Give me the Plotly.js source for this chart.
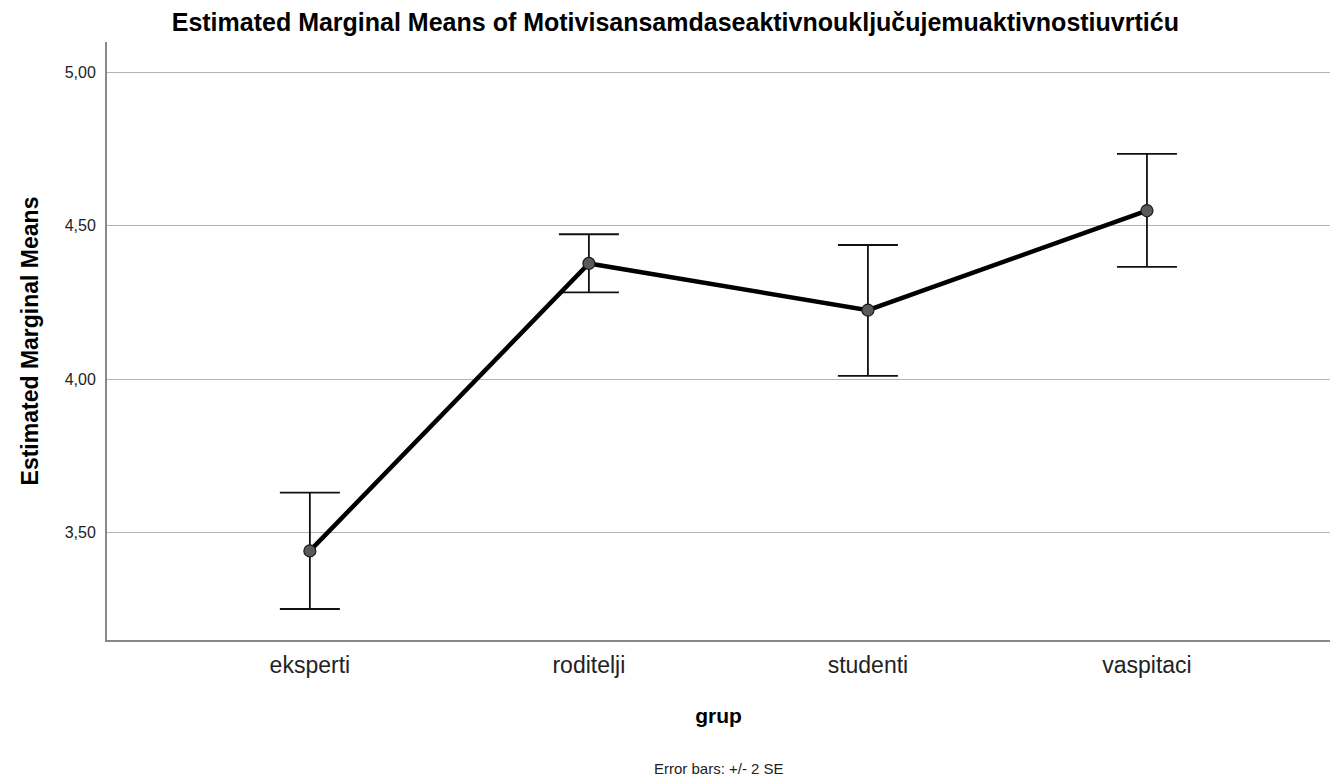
<!DOCTYPE html>
<html>
<head>
<meta charset="utf-8">
<script src="https://cdn.plot.ly/plotly-3.0.1.min.js"></script>
<style>html,body{margin:0;padding:0;background:#fff;}#chart{width:1332px;height:779px;}</style>
</head>
<body>
<div id="chart"></div>
<script>
const categories = ["eksperti", "roditelji", "studenti", "vaspitaci"];
const means = [3.441, 4.377, 4.225, 4.549];
const upperCI = [3.631, 4.472, 4.437, 4.734];
const lowerCI = [3.252, 4.283, 4.011, 4.366];
const yTickVals = [3.5, 4.0, 4.5, 5.0];
const yTickText = ["3,50", "4,00", "4,50", "5,00"];

const xIdx = categories.map((c, i) => i);
const errPlus = upperCI.map((u, i) => u - means[i]);
const errMinus = lowerCI.map((l, i) => means[i] - l);

const trace = {
  x: xIdx,
  y: means,
  type: "scatter",
  mode: "lines+markers",
  line: {color: "#000000", width: 4.5},
  marker: {size: 12, color: "#5a5a5a", line: {color: "#1a1a1a", width: 1.2}},
  error_y: {type: "data", array: errPlus, arrayminus: errMinus, visible: true,
            color: "#111111", thickness: 1.8, width: 30},
  hoverinfo: "x+y",
  showlegend: false
};

const layout = {
  width: 1332, height: 779,
  margin: {l: 107, r: 2, t: 42, b: 139},
  paper_bgcolor: "#ffffff", plot_bgcolor: "#ffffff",
  font: {family: "Liberation Sans, Arial, sans-serif", color: "#000000"},
  title: {text: "<b>Estimated Marginal Means of Motivisansamdaseaktivnouključujemuaktivnostiuvrtiću</b>",
          font: {size: 25, color: "#000"}, x: 0.507, xanchor: "center", y: 0.971, yanchor: "middle"},
  xaxis: {
    range: [-0.727, 3.656],
    tickvals: xIdx, ticktext: categories,
    tickfont: {size: 23, color: "#222"},
    showgrid: false, zeroline: false,
    showline: true, linecolor: "#888888", linewidth: 2,
    ticks: "outside", ticklen: 3, tickcolor: "rgba(0,0,0,0)",
    title: {text: "<b>grup</b>", font: {size: 21, color: "#000"}, standoff: 32}
  },
  yaxis: {
    range: [3.151, 5.098],
    tickvals: yTickVals, ticktext: yTickText,
    tickfont: {size: 16, color: "#222"},
    showgrid: true, gridcolor: "#b4b4b4", gridwidth: 1,
    zeroline: false,
    showline: true, linecolor: "#888888", linewidth: 2,
    ticks: "outside", ticklen: 6, tickcolor: "rgba(0,0,0,0)",
    title: {text: "<b>Estimated Marginal Means</b>", font: {size: 23, color: "#000"}, standoff: 20}
  },
  annotations: [{
    text: "Error bars: +/- 2 SE", xref: "paper", yref: "paper",
    x: 0.5, y: -0.215, xanchor: "center", yanchor: "middle",
    showarrow: false, font: {size: 15, color: "#222"}
  }]
};

Plotly.newPlot("chart", [trace], layout, {displayModeBar: false, staticPlot: true});
</script>
</body>
</html>
